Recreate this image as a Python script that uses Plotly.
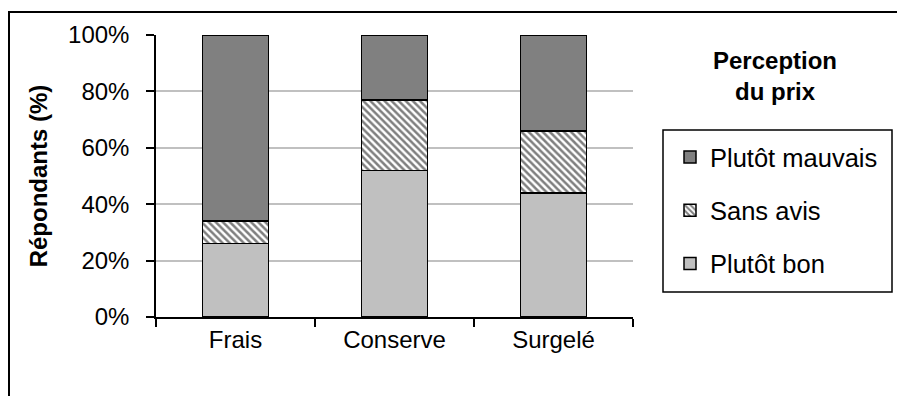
import plotly.graph_objects as go

categories = ["Frais", "Conserve", "Surgelé"]
plutot_bon = [26, 52, 44]
sans_avis = [8, 25, 22]
plutot_mauvais = [66, 23, 34]
y_ticks = [0, 20, 40, 60, 80, 100]
y_tick_labels = ["0%", "20%", "40%", "60%", "80%", "100%"]

FONT = "Liberation Sans, Arial, sans-serif"
FS = 24
LFS = 25.5
OFF = 8  # page body margin offset
L, R = 156 - OFF, 633 - OFF
T, B = 35 - OFF, 317 - OFF
W, H = 905, 396
pw, ph = R - L, B - T

def px(x):
    return (x - OFF - L) / pw

def py(y):
    return (B - (y - OFF)) / ph

fig = go.Figure()
line = dict(color="black", width=1.5)
fig.add_trace(go.Bar(x=categories, y=plutot_bon, name="Plutôt bon",
                     marker=dict(color="#c0c0c0", line=line),
                     legendgroup="c", legendrank=3))
fig.add_trace(go.Bar(x=categories, y=sans_avis, name="Sans avis",
                     marker=dict(color="white", line=line,
                                 pattern=dict(shape="\\", fgcolor="black", bgcolor="white",
                                              size=5, solidity=0.5)),
                     legendgroup="b", legendrank=2))
fig.add_trace(go.Bar(x=categories, y=plutot_mauvais, name="Plutôt mauvais",
                     marker=dict(color="#808080", line=line),
                     legendgroup="a", legendrank=1))

fig.update_layout(
    width=W, height=H,
    margin=dict(l=L, r=W - R, t=T, b=H - B),
    barmode="stack", bargap=0.585,
    plot_bgcolor="white", paper_bgcolor="white",
    font=dict(family=FONT, size=FS, color="black"),
    legend=dict(x=px(670), y=py(134), xanchor="left", yanchor="top",
                borderwidth=0, bgcolor="rgba(0,0,0,0)",
                traceorder="grouped", tracegroupgap=17,
                font=dict(size=LFS), itemwidth=30),
    showlegend=True,
)
fig.update_xaxes(showline=True, linecolor="black", linewidth=1.5,
                 ticks="outside", tickson="boundaries", ticklen=8, tickcolor="black",
                 tickwidth=1.5, showgrid=False, tickfont=dict(size=FS))
fig.update_yaxes(range=[0, 100], tickvals=y_ticks, ticktext=y_tick_labels,
                 showline=True, linecolor="black", linewidth=1.5,
                 ticks="outside", ticklen=8, tickcolor="black", tickwidth=1.5,
                 ticklabelstandoff=12, tickfont=dict(size=FS),
                 showgrid=True, gridcolor="#c0c0c0", gridwidth=1.5,
                 title=dict(text="<b>Répondants (%)</b>", standoff=14,
                            font=dict(size=FS)))

fig.add_annotation(text="<b>Perception<br>du prix</b>", xref="paper", yref="paper",
                   x=px(775), y=py(76), showarrow=False, font=dict(size=FS),
                   xanchor="center", yanchor="middle")
# legend frame
fig.add_shape(type="rect", xref="paper", yref="paper",
              x0=px(663), x1=px(892), y0=py(292), y1=py(130),
              line=dict(color="black", width=1.5), layer="above")
# outer chart frame
fig.add_shape(type="rect", xref="paper", yref="paper",
              x0=px(9), x1=px(930), y0=py(420), y1=py(12),
              line=dict(color="black", width=2), layer="above")

fig.write_html("out.html")
